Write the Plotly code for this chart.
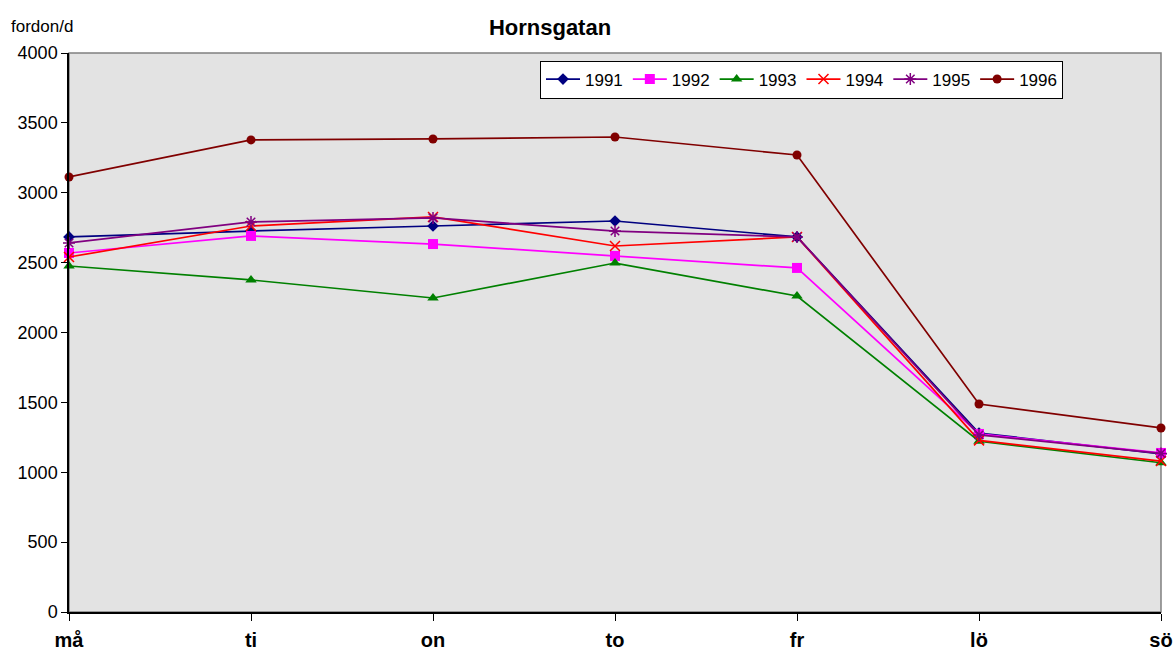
import plotly.graph_objects as go

days = ["må", "ti", "on", "to", "fr", "lö", "sö"]
years = ["1991", "1992", "1993", "1994", "1995", "1996"]
v1991 = [2684, 2726, 2762, 2798, 2684, 1281, 1131]
v1992 = [2569, 2691, 2633, 2548, 2462, 1274, 1138]
v1993 = [2476, 2376, 2247, 2497, 2261, 1222, 1068]
v1994 = [2540, 2762, 2827, 2619, 2684, 1228, 1080]
v1995 = [2641, 2791, 2820, 2726, 2684, 1267, 1135]
v1996 = [3113, 3378, 3385, 3399, 3270, 1488, 1317]
y_ticks = [0, 500, 1000, 1500, 2000, 2500, 3000, 3500, 4000]

series = [v1991, v1992, v1993, v1994, v1995, v1996]
colors = ["#000080", "#FF00FF", "#008000", "#FF0000", "#800080", "#800000"]
symbols = ["diamond", "square", "triangle-up", "x-thin-open", "asterisk-open", "circle"]
sizes = [9, 10, 10, 10, 10, 9]

xs = list(range(len(days)))
fig = go.Figure()
for name, vals, c, s, sz in zip(years, series, colors, symbols, sizes):
    marker = dict(symbol=s, size=sz, color=c)
    if s.endswith("open"):
        marker["line"] = dict(color=c, width=1.5)
    fig.add_trace(go.Scatter(x=xs, y=vals, name=name, mode="lines+markers",
                             line=dict(color=c, width=1.7), marker=marker, cliponaxis=False))

fig.update_layout(
    width=1176, height=651,
    margin=dict(l=69, r=15, t=53, b=39, autoexpand=False),
    paper_bgcolor="white", plot_bgcolor="#E3E3E3",
    font=dict(family="Liberation Sans, Arial, sans-serif", size=17, color="black"),
    title=dict(text="<b>Hornsgatan</b>", x=550/1176, xanchor="center", y=1-27/651, yanchor="middle",
               font=dict(size=22)),
    showlegend=True,
    legend=dict(orientation="h", x=(540-69)/1092, xanchor="left", y=(612-79.5)/559, yanchor="middle",
                bgcolor="white", bordercolor="black", borderwidth=1,
                font=dict(size=17), itemwidth=34, tracegroupgap=0),
    annotations=[dict(text="fordon/d", xref="paper", yref="paper", x=-60/1092, y=(612-27)/559,
                      xanchor="left", yanchor="middle", showarrow=False, font=dict(size=17))],
)
fig.update_xaxes(range=[0, 6], tickvals=xs, ticktext=["<b>%s</b>" % d for d in days],
                 showgrid=False, zeroline=False, showline=True, linecolor="black", linewidth=1.5,
                 ticks="outside", ticklen=7, tickcolor="black", tickfont=dict(size=20),
                 ticklabelstandoff=2, automargin=False)
fig.update_yaxes(range=[0, 4000], tickvals=y_ticks, showgrid=False, zeroline=False,
                 showline=True, linecolor="black", linewidth=1.5, ticks="outside", ticklen=6,
                 tickcolor="black", tickfont=dict(size=18), automargin=False)
# gray top/right border of plot area
fig.add_shape(type="rect", xref="paper", yref="paper", x0=0, y0=0, x1=1, y1=1,
              line=dict(color="#808080", width=1.5), layer="below")
fig.write_html("out.html", config={"displayModeBar": False},
               post_script="document.body.style.margin='0px';")
